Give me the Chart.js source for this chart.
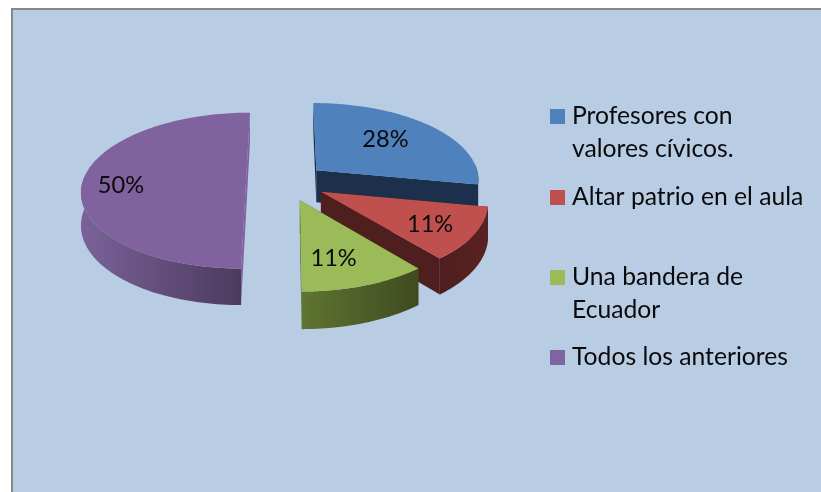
<!DOCTYPE html>
<html><head><meta charset="utf-8">
<script src="https://cdn.jsdelivr.net/npm/chart.js@4"></script>
<style>
html,body{margin:0;padding:0;background:#fff;overflow:hidden}
#frame{position:absolute;left:11px;top:8px;width:900px;height:600px;box-sizing:border-box;border:2px solid #868686;background:#b8cce4}
canvas{position:absolute;left:0;top:0}
</style></head><body>
<div id="frame"></div>
<canvas id="c" width="821" height="492"></canvas>
<script>
const categories = ["Profesores con valores cívicos.", "Altar patrio en el aula", "Una bandera de Ecuador", "Todos los anteriores"];
const values = [28, 11, 11, 50];
const legendLines = [["Profesores con", "valores cívicos."], ["Altar patrio en el aula"], ["Una bandera de", "Ecuador"], ["Todos los anteriores"]];
const topColors = ["#4f81bd", "#c0504d", "#9bbb59", "#7f629e"];
const legendColors = ["#4f81bd", "#c0504d", "#9bbb59", "#8064a2"];
const sideColors = ["#1c304c", "#4f1e1e", "#4a5a26", "#7f629e"];
const wallFrom = ["#1c304c", "#4f1e1e", "#5f7530", "#7a6298"];
const wallTo = ["#1c304c", "#5a2222", "#3f4a20", "#4c3a5e"];
const labelSpots = [[0.46, -0.44], [0.62, 0.40], [0.18, 0.66], [-0.76, 0.04]];
const legendY = [116, 197, 277, 357];

const FONT = "Lato, Carlito, sans-serif";
const SQUASH = 77 / 163.5, PERSP = 0.11, DEPTH = 32.5;

function project(cx, cy, px, py) {
  const v = py / 163.5, s = 1 / (1 - PERSP * v);
  return { x: cx + px * s, y: cy + py * SQUASH * s, s };
}
class Arc3D extends Chart.ArcElement {
  draw(ctx) {
    const { x, y, startAngle, endAngle, outerRadius: R } = this.getProps(["x", "y", "startAngle", "endAngle", "outerRadius"]);
    const i = this.$context ? this.$context.dataIndex : 0;
    const e = (this.options.offset || 0) / 4, mid = (startAngle + endAngle) / 2;
    const ox = Math.cos(mid) * e, oy = Math.sin(mid) * e;
    const rim = [], front = [], n = 120;
    for (let k = 0; k <= n; k++) {
      const a = startAngle + (endAngle - startAngle) * k / n;
      const p = project(x, y, ox + R * Math.cos(a), oy + R * Math.sin(a));
      rim.push(p);
      if (Math.sin(a) > -0.1) front.push(p);
    }
    const apex = project(x, y, ox, oy);
    const poly = (pts, fill) => {
      ctx.beginPath();
      pts.forEach((p, j) => j ? ctx.lineTo(p[0], p[1]) : ctx.moveTo(p[0], p[1]));
      ctx.closePath(); ctx.fillStyle = fill; ctx.fill();
    };
    const down = p => [p.x, p.y + DEPTH * p.s], up = p => [p.x, p.y];
    ctx.save();
    [rim[0], rim[n]].forEach(p => poly([up(apex), up(p), down(p), down(apex)], sideColors[i]));
    if (front.length > 1) {
      const xs = front.map(p => p.x);
      const g = ctx.createLinearGradient(Math.min(...xs), 0, Math.max(...xs), 0);
      g.addColorStop(0, wallFrom[i]); g.addColorStop(1, wallTo[i]);
      poly(front.map(up).concat(front.slice().reverse().map(down)), g);
    }
    poly([up(apex)].concat(rim.map(up)), topColors[i]);
    ctx.restore();
  }
}
Arc3D.id = "arc3d";
Arc3D.defaults = Chart.ArcElement.defaults;
Arc3D.defaultRoutes = Chart.ArcElement.defaultRoutes;
Arc3D.descriptors = Chart.ArcElement.descriptors;
class Pie3D extends Chart.PieController {}
Pie3D.id = "pie3d";
Pie3D.defaults = Object.assign({}, Chart.PieController.defaults, { dataElementType: "arc3d" });
Pie3D.overrides = Chart.PieController.overrides;
Chart.register(Chart.ArcElement, Chart.PieController, Arc3D, Pie3D);

const textPlugin = {
  id: "textPlugin",
  afterDatasetsDraw(chart) {
    const ctx = chart.ctx, total = values.reduce((a, b) => a + b, 0);
    ctx.save();
    ctx.fillStyle = "#0a0a0a";
    ctx.textBaseline = "middle";
    ctx.font = "23.6px " + FONT;
    ctx.textAlign = "center";
    chart.getDatasetMeta(0).data.forEach((el, i) => {
      const e = (el.options.offset || 0) / 4, mid = (el.startAngle + el.endAngle) / 2, R = el.outerRadius;
      const p = project(el.x, el.y, Math.cos(mid) * e + labelSpots[i][0] * R, Math.sin(mid) * e + labelSpots[i][1] * R);
      ctx.fillText(Math.round(values[i] / total * 100) + "%", p.x, p.y);
    });
    ctx.textAlign = "left";
    ctx.font = "24.7px " + FONT;
    legendLines.forEach((lines, i) => {
      ctx.fillStyle = legendColors[i];
      ctx.fillRect(550, legendY[i] - 7, 15, 15);
      ctx.fillStyle = "#0a0a0a";
      lines.forEach((t, j) => ctx.fillText(t, 572, legendY[i] + j * 33));
    });
    ctx.restore();
  }
};

new Chart(document.getElementById("c"), {
  type: "pie3d",
  data: { labels: categories, datasets: [{ data: values, backgroundColor: topColors, borderWidth: 0, offset: 160, hoverOffset: 0 }] },
  options: {
    responsive: false, animation: false, radius: 163.5, rotation: 0,
    layout: { padding: { left: 0, right: 249, top: 0, bottom: 128 } },
    plugins: { legend: { display: false }, tooltip: { enabled: false } },
    events: []
  },
  plugins: [textPlugin]
});
</script>
</body></html>
